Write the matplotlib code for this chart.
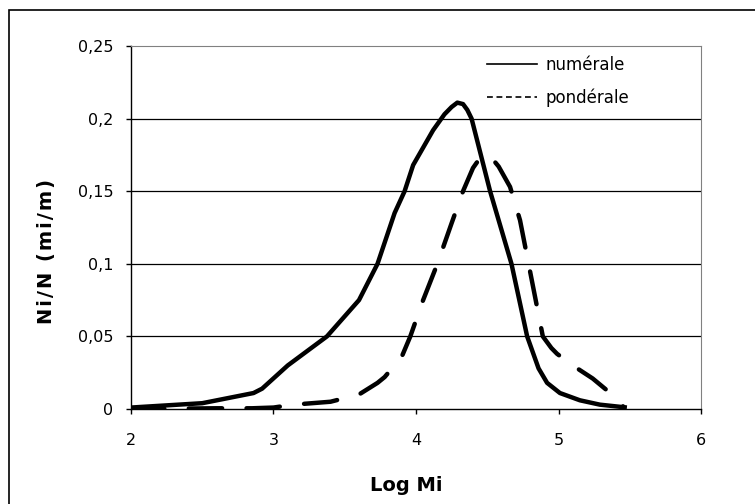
import matplotlib.pyplot as plt
from matplotlib.lines import Line2D
from matplotlib.patches import Rectangle

# Log Mi values and distributions
log_num = [2.0, 2.5, 2.86, 2.92, 3.1, 3.375, 3.6, 3.73, 3.85, 3.92, 3.98, 4.05, 4.12, 4.2,
           4.25, 4.29, 4.33, 4.36, 4.39, 4.52, 4.67, 4.78, 4.86, 4.92, 5.01, 5.15, 5.29, 5.48]
frac_num = [0.001, 0.004, 0.011, 0.014, 0.03, 0.05, 0.075, 0.1, 0.135, 0.15, 0.168, 0.18,
            0.192, 0.203, 0.208, 0.211, 0.210, 0.206, 0.2, 0.15, 0.1, 0.05, 0.028, 0.018,
            0.011, 0.006, 0.003, 0.001]

log_pond = [2.0, 2.6, 2.85, 3.0, 3.14, 3.4, 3.6, 3.73, 3.78, 3.9, 3.96, 4.05, 4.15, 4.25,
            4.33, 4.4, 4.45, 4.49, 4.53, 4.58, 4.66, 4.73, 4.79, 4.89, 4.95, 4.99, 5.1,
            5.24, 5.4, 5.46]
frac_pond = [0.0, 0.0005, 0.0005, 0.001, 0.003, 0.005, 0.01, 0.018, 0.022, 0.036, 0.05, 0.075,
             0.1, 0.128, 0.15, 0.166, 0.173, 0.175, 0.173, 0.167, 0.153, 0.13, 0.1, 0.05,
             0.042, 0.038, 0.03, 0.021, 0.008, 0.001]

xticks = [2, 3, 4, 5, 6]
yticks = [0, 0.05, 0.1, 0.15, 0.2, 0.25]
ytick_labels = ['0', '0,05', '0,1', '0,15', '0,2', '0,25']

plt.rcParams['font.family'] = 'DejaVu Sans'

fig = plt.figure(figsize=(7.55, 5.04), dpi=100)
ax = fig.add_axes([131 / 755, 1 - 409 / 504, 570 / 755, 363 / 504])

# outer chart frame (right and bottom edges fall outside the picture)
fig.patches.append(Rectangle((9 / 755, -0.05), 1.2, 1 - 10 / 504 + 0.05,
                             transform=fig.transFigure, fill=False,
                             edgecolor='black', linewidth=1.2))

for y in yticks[1:-1]:
    ax.axhline(y, color='black', linewidth=0.9, zorder=1)

ax.plot(log_num, frac_num, color='black', linewidth=3.2, solid_capstyle='butt',
        solid_joinstyle='round', zorder=3)
ax.plot(log_pond, frac_pond, color='black', linewidth=3.2, dashes=(7.5, 5.5),
        dash_capstyle='round', dash_joinstyle='round', zorder=3)

ax.set_xlim(2, 6)
ax.set_ylim(0, 0.25)
ax.set_xticks(xticks)
ax.set_yticks(yticks)
ax.set_yticklabels(ytick_labels)
ax.tick_params(direction='out', length=3.6, width=1, labelsize=11.5, colors='black')
ax.tick_params(axis='x', pad=13.5)
ax.tick_params(axis='y', pad=9)

ax.spines['top'].set_color('#808080')
ax.spines['right'].set_color('#808080')
ax.spines['left'].set_linewidth(1)
ax.spines['bottom'].set_linewidth(1)

hs = '\u200a'
ax.set_xlabel('Log Mi', fontsize=14, fontweight='bold', labelpad=20)
ax.set_ylabel(hs.join('Ni/N (mi/m)'), fontsize=14, fontweight='bold', labelpad=16)
# Excel places the axis titles a little off the axes centre
ax.xaxis.label.set_x((406 - 131) / 570)
ax.yaxis.label.set_y((409 - 252) / 363)

handles = [Line2D([], [], color='black', linewidth=1.2),
           Line2D([], [], color='black', linewidth=1.2, linestyle=(0, (3.5, 2.2)))]
ax.legend(handles, ['numérale', 'pondérale'], loc='upper left', frameon=False,
          fontsize=12, handlelength=3.0, handletextpad=0.5, labelspacing=0.85,
          borderpad=0, borderaxespad=0, bbox_to_anchor=((487 - 131) / 570, (409 - 56) / 363))

fig.savefig('out.png', dpi=100)
